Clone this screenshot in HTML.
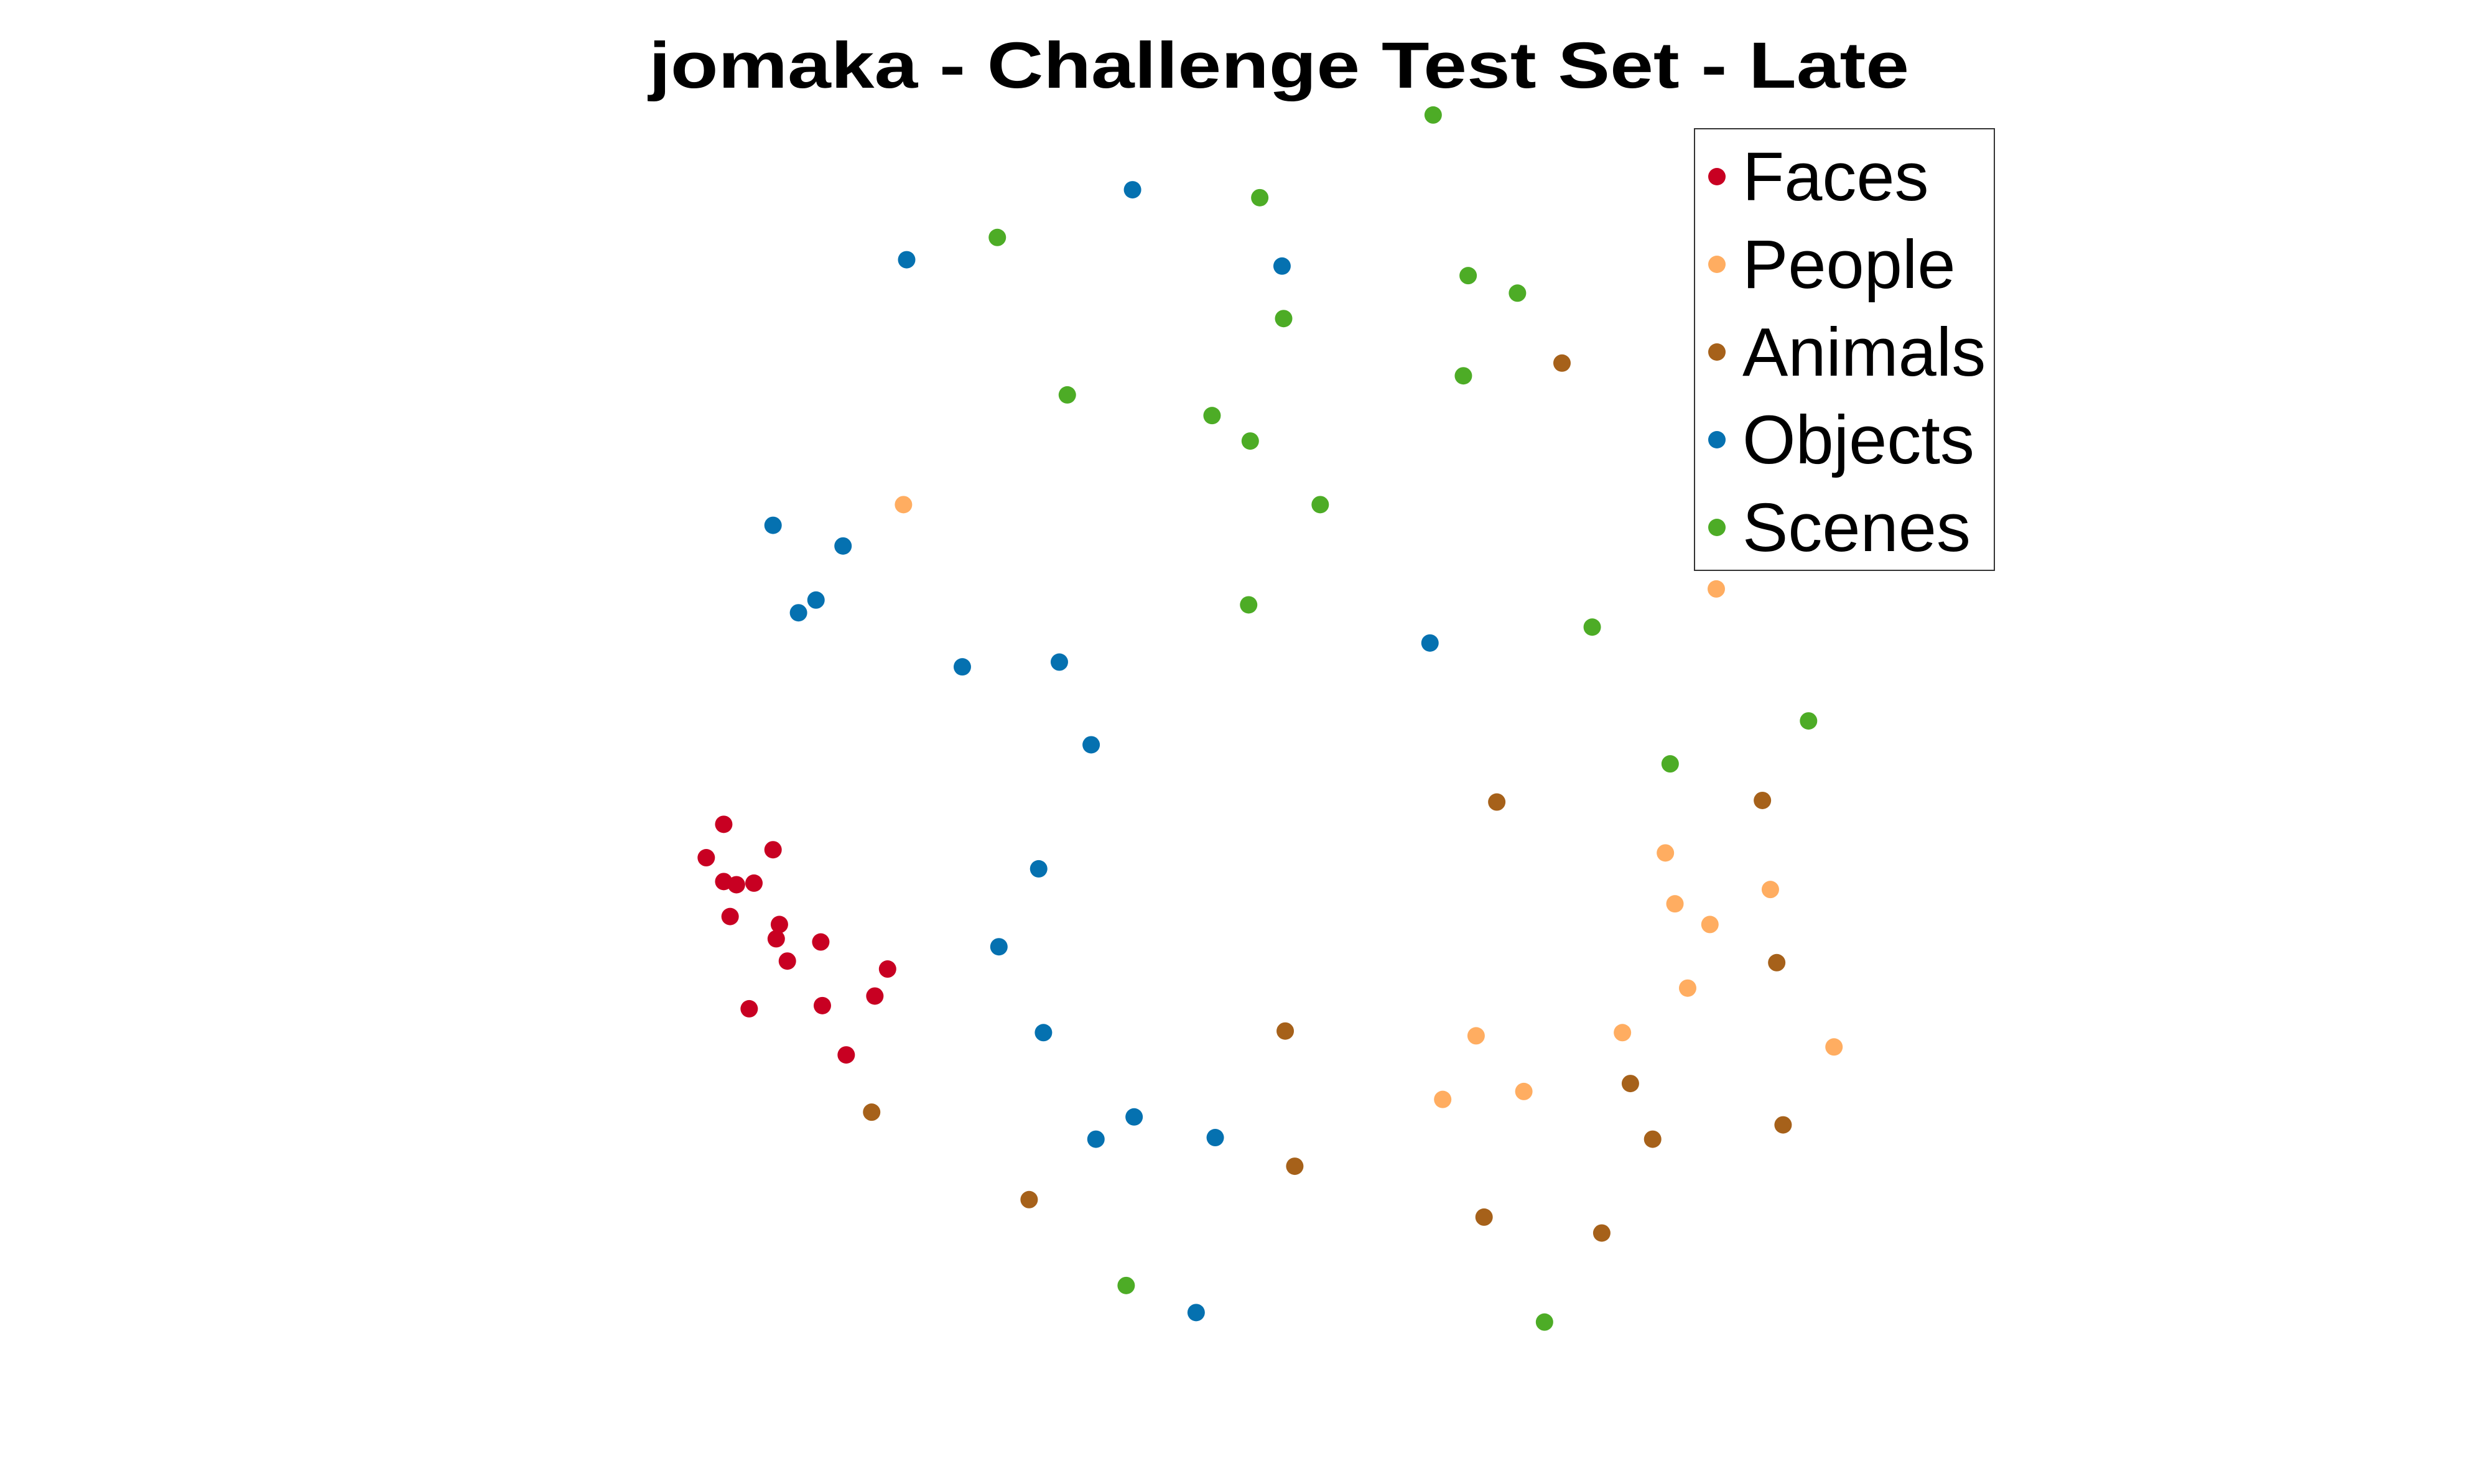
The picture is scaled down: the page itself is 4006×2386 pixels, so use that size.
<!DOCTYPE html>
<html><head><meta charset="utf-8"><style>html,body{margin:0;padding:0;background:#fff}svg{display:block}</style></head>
<body>
<svg id="chart" width="4006" height="2386" viewBox="0 0 4006 2386" xmlns="http://www.w3.org/2000/svg">
<rect width="4006" height="2386" fill="#fff"/>
<text x="2056" y="141" text-anchor="middle" font-family="Liberation Sans, sans-serif" font-weight="bold" font-size="105" textLength="2026" lengthAdjust="spacingAndGlyphs">jomaka - Challenge Test Set - Late</text>
<g id="points"></g>
<g>
<rect x="2724" y="207" width="482" height="710" fill="#fff" stroke="#333" stroke-width="2"/>
<g id="legend-items"></g>
</g>
</svg>
<script>
const categories = ["Faces","People","Animals","Objects","Scenes"];
const colors = ["#c80022","#ffad61","#a6611a","#0571b0","#4dac26"];
const facesX = [455,444,455,463,474,486,459,490,488,516,495,558,550,471,517,532];
const facesY = [518,539,554,556,555,534,576,581,590,592,604,609,626,634,632,663];
const peopleX = [568,1079,1047,1113,1053,1075,1061,1020,928,1153,958,907];
const peopleY = [317,370,536,559,568,581,621,649,651,658,686,691];
const animalsX = [982,941,1108,1117,808,1025,548,1039,1121,814,647,933,1007];
const animalsY = [228,504,503,605,648,681,699,716,707,733,754,765,775];
const objectsX = [712,570,806,486,530,513,502,605,666,899,686,653,628,656,713,689,764,752];
const objectsY = [119,163,167,330,343,377,385,419,416,404,468,546,595,649,702,716,715,825];
const scenesX = [901,792,627,923,954,807,920,671,762,786,830,785,1001,1137,1050,708,971];
const scenesY = [72,124,149,173,184,200,236,248,261,277,317,380,394,453,480,808,831];

const S = 2.557;
function xAxis(v){ return v*S; }
function yAxis(v){ return 72*2.568 + (v-72)*S; }
const NS = "http://www.w3.org/2000/svg";
const layer = document.getElementById("points");
const seriesX = [facesX,peopleX,animalsX,objectsX,scenesX];
const seriesY = [facesY,peopleY,animalsY,objectsY,scenesY];
seriesX.forEach((xs,si)=>{
  xs.forEach((xv,i)=>{
    const c = document.createElementNS(NS,"circle");
    c.setAttribute("cx", xAxis(xv));
    c.setAttribute("cy", yAxis(seriesY[si][i]));
    c.setAttribute("r", 14);
    c.setAttribute("fill", colors[si]);
    
    
    layer.appendChild(c);
  });
});
const leg = document.getElementById("legend-items");
categories.forEach((name,i)=>{
  const cy = 284 + i*141;
  const c = document.createElementNS(NS,"circle");
  c.setAttribute("cx", 2760); c.setAttribute("cy", cy); c.setAttribute("r", 14);
  c.setAttribute("fill", colors[i]);
  
  
  leg.appendChild(c);
  const t = document.createElementNS(NS,"text");
  t.setAttribute("x", 2801); t.setAttribute("y", cy+38);
  t.setAttribute("font-family","Liberation Sans, sans-serif");
  t.setAttribute("font-size","110");
  t.textContent = name;
  
  
  leg.appendChild(t);
});
</script>
</body></html>
